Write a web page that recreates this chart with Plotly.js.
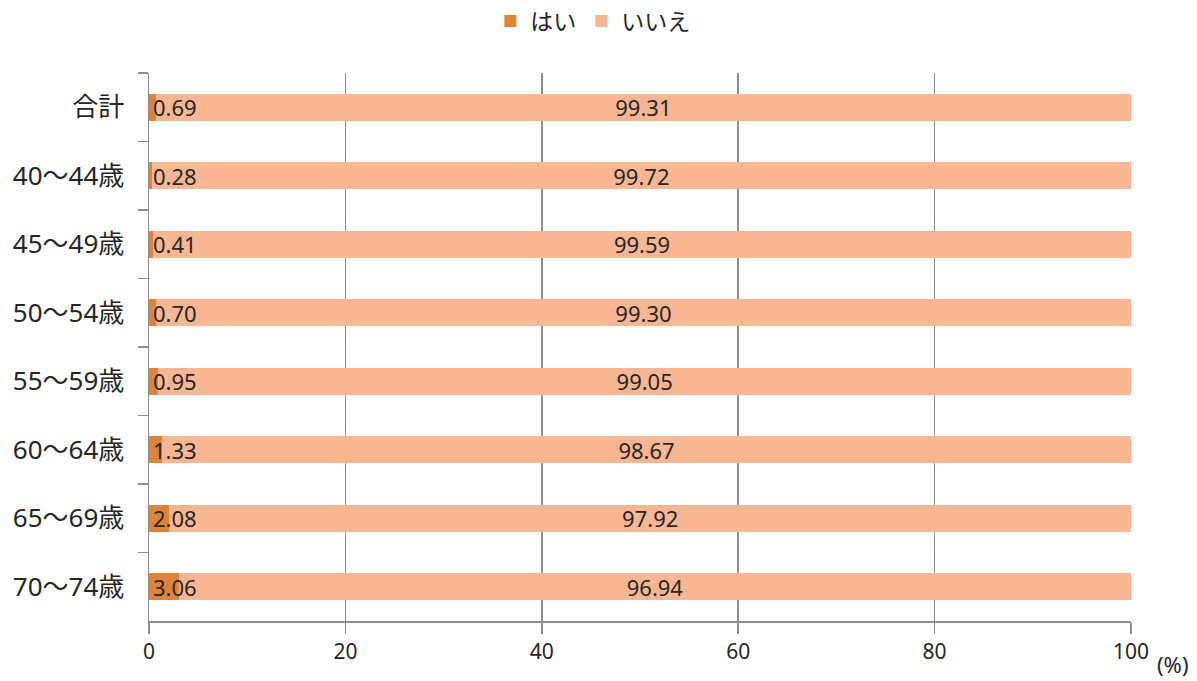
<!DOCTYPE html>
<html>
<head>
<meta charset="utf-8">
<script src="https://cdn.plot.ly/plotly-3.0.1.min.js"></script>
<style>
  html, body { margin: 0; padding: 0; background: #fff; }
  #chart { width: 1197px; height: 681px; }
</style>
</head>
<body>
<div id="chart"></div>
<script>
// Age groups, top to bottom
const categories = ['合計', '40～44歳', '45～49歳', '50～54歳', '55～59歳', '60～64歳', '65～69歳', '70～74歳'];
// Share answering "はい" / "いいえ" (%)
const yesValues = [0.69, 0.28, 0.41, 0.70, 0.95, 1.33, 2.08, 3.06];
const noValues = [99.31, 99.72, 99.59, 99.30, 99.05, 98.67, 97.92, 96.94];
const xTicks = [0, 20, 40, 60, 80, 100];

const fontFamily = '"Noto Sans", "Noto Sans CJK JP", sans-serif';
const textColor = '#262626';
const gridColor = '#8e8e8e';

const fmt = v => v.toFixed(2);

const traces = [
  {
    type: 'bar',
    orientation: 'h',
    name: 'はい',
    y: categories,
    x: yesValues,
    marker: { color: '#dd8439' },
    hoverinfo: 'skip'
  },
  {
    type: 'bar',
    orientation: 'h',
    name: 'いいえ',
    y: categories,
    x: noValues,
    marker: { color: '#f8b692' },
    text: noValues.map(fmt),
    textposition: 'inside',
    insidetextanchor: 'middle',
    constraintext: 'none',
    textfont: { family: fontFamily, size: 22, color: textColor },
    hoverinfo: 'skip'
  }
];

// "はい" value labels, placed at the start of each bar
const yesLabels = categories.map((c, i) => ({
  text: fmt(yesValues[i]),
  xref: 'x',
  yref: 'y',
  x: 0,
  y: c,
  xanchor: 'left',
  yanchor: 'middle',
  xshift: 2,
  showarrow: false,
  font: { family: fontFamily, size: 22, color: textColor }
}));

const layout = {
  width: 1197,
  height: 681,
  margin: { l: 149, r: 66, t: 73, b: 60, autoexpand: false },
  paper_bgcolor: '#ffffff',
  plot_bgcolor: '#ffffff',
  barmode: 'stack',
  bargap: 0.6,
  font: { family: fontFamily, color: textColor },
  showlegend: true,
  legend: {
    orientation: 'h',
    x: 0.452,
    xanchor: 'center',
    y: 1.095,
    yanchor: 'middle',
    itemwidth: 30,
    font: { family: fontFamily, size: 23, color: textColor },
    traceorder: 'normal'
  },
  xaxis: {
    range: [0, 100],
    tickvals: xTicks,
    ticktext: xTicks.map(String),
    showgrid: true,
    gridcolor: gridColor,
    gridwidth: 1.5,
    zeroline: false,
    showline: true,
    linecolor: gridColor,
    linewidth: 1.5,
    ticks: 'outside',
    ticklen: 11,
    tickwidth: 1.5,
    tickcolor: gridColor,
    tickfont: { family: fontFamily, size: 21, color: textColor },
    fixedrange: true
  },
  yaxis: {
    type: 'category',
    categoryorder: 'array',
    categoryarray: categories,
    autorange: 'reversed',
    showgrid: false,
    zeroline: false,
    showline: true,
    linecolor: gridColor,
    linewidth: 1.5,
    ticks: 'outside',
    tickson: 'boundaries',
    ticklen: 10,
    tickwidth: 1.5,
    tickcolor: gridColor,
    ticklabelstandoff: 18,
    tickfont: { family: fontFamily, size: 26, color: textColor },
    fixedrange: true
  },
  annotations: yesLabels.concat([
    {
      text: '(%)',
      xref: 'paper',
      yref: 'paper',
      x: 1.042,
      y: -0.078,
      xanchor: 'center',
      yanchor: 'middle',
      showarrow: false,
      font: { family: fontFamily, size: 22, color: textColor }
    }
  ])
};

Plotly.newPlot('chart', traces, layout, { displayModeBar: false, staticPlot: true });
</script>
</body>
</html>
